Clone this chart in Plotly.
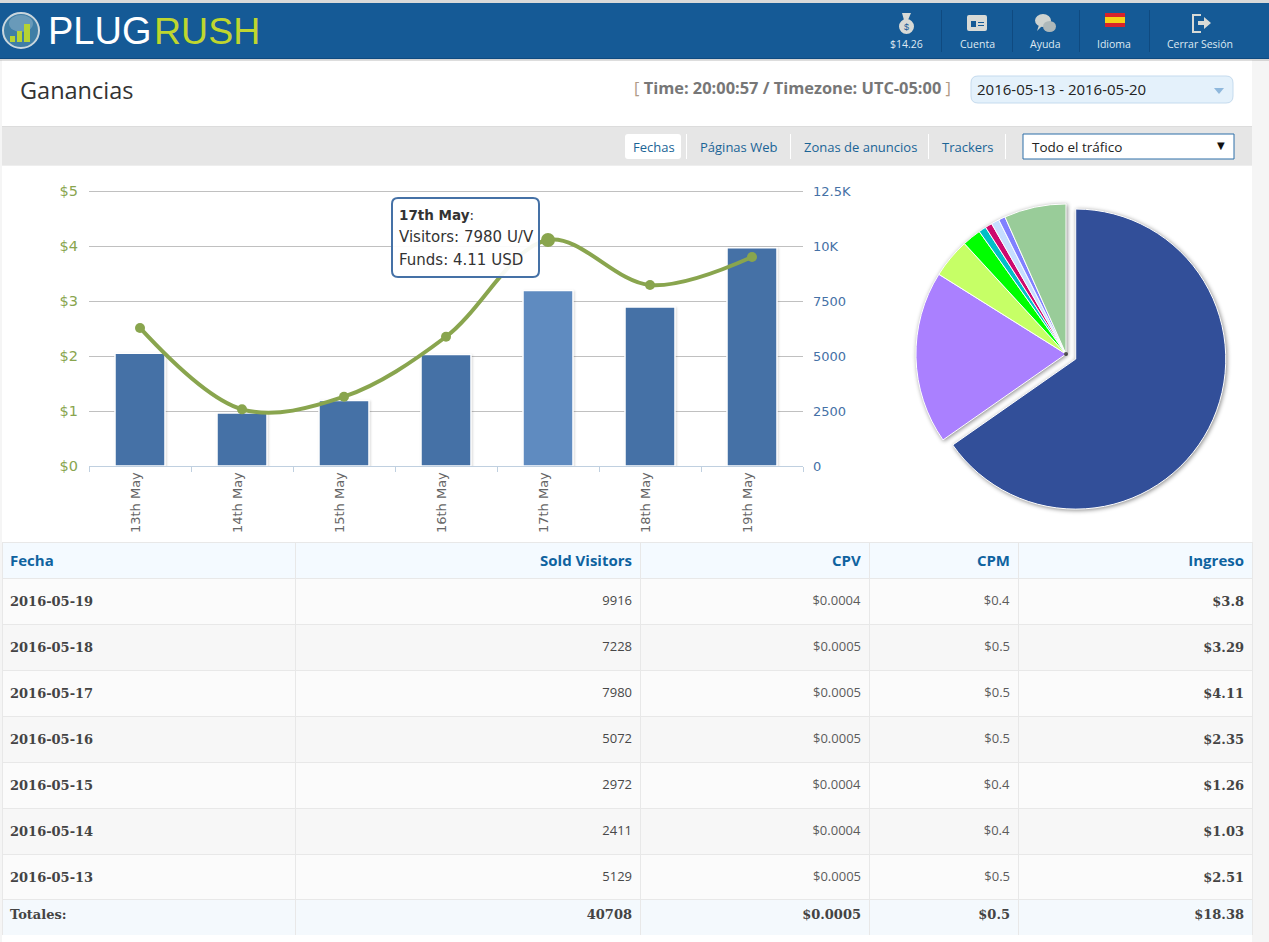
import plotly.graph_objects as go

W = 1269
H = 942

# -------------------------------------
# Data
# -------------------------------------
day_labels = ["13th May", "14th May", "15th May", "16th May", "17th May", "18th May", "19th May"]
visitors = [5129, 2411, 2972, 5072, 7980, 7228, 9916]
funds = [2.51, 1.03, 1.26, 2.35, 4.11, 3.29, 3.8]
cpv = [0.0005, 0.0004, 0.0004, 0.0005, 0.0005, 0.0005, 0.0004]
cpm = [0.5, 0.4, 0.4, 0.5, 0.5, 0.5, 0.4]
dates = ["2016-05-13", "2016-05-14", "2016-05-15", "2016-05-16", "2016-05-17", "2016-05-18", "2016-05-19"]

funds_ticks = [0, 1, 2, 3, 4, 5]
funds_ticktext = ["$0", "$1", "$2", "$3", "$4", "$5"]
visitor_ticks = [0, 2500, 5000, 7500, 10000, 12500]
visitor_ticktext = ["0", "2500", "5000", "7500", "10K", "12.5K"]

# share of traffic
pie_values = [235, 67, 15.3, 7.3, 2.9, 2.7, 3.1, 2.6, 24]
pie_colors = ["#324f99", "#aa80ff", "#c6ff66", "#00ff00", "#00bfc8", "#cc0a6e", "#c6deff", "#8080ff", "#99cc99"]
pie_pull = [0.073, 0, 0, 0, 0, 0, 0, 0, 0]

table_headers = ["Fecha", "Sold Visitors", "CPV", "CPM", "Ingreso"]
totals = ["Totales:", "40708", "$0.0005", "$0.5", "$18.38"]
column_widths = [293, 345, 229, 149, 234]

BLUE = "#4571a6"
BLUE_HOVER = "#5f8bc0"
OLIVE = "#89a54e"
LINK = "#1a6496"
TABLE_LINE = "#e8e8e8"


# -------------------------------------
# Helpers: page pixels to paper fractions
# -------------------------------------
def px(x):
    return x / W


def py(y):
    return 1 - y / H


shapes = []
annotations = []


def rect(x0, y0, x1, y1, fill, line=None, layer="below", width=1):
    shapes.append(dict(type="rect", xref="paper", yref="paper", x0=px(x0), x1=px(x1), y0=py(y0), y1=py(y1),
                       fillcolor=fill, line=dict(color=line or "rgba(0,0,0,0)", width=width if line else 0),
                       layer=layer))


def ellipse(x0, y0, x1, y1, fill, line=None, layer="above", width=1):
    shapes.append(dict(type="circle", xref="paper", yref="paper", x0=px(x0), x1=px(x1), y0=py(y0), y1=py(y1),
                       fillcolor=fill, line=dict(color=line or "rgba(0,0,0,0)", width=width if line else 0),
                       layer=layer))


def path(points, fill, line=None, layer="above", width=1, closed=True):
    d = "M " + " L ".join(f"{px(a)},{py(b)}" for a, b in points)
    if closed:
        d += " Z"
    shapes.append(dict(type="path", xref="paper", yref="paper", path=d, fillcolor=fill if closed else None,
                       line=dict(color=line or "rgba(0,0,0,0)", width=width if line else 0), layer=layer))


def round_rect(x0, y0, x1, y1, r, fill, line=None, layer="below", width=1):
    d = (f"M {px(x0 + r)},{py(y0)} L {px(x1 - r)},{py(y0)} Q {px(x1)},{py(y0)} {px(x1)},{py(y0 + r)} "
         f"L {px(x1)},{py(y1 - r)} Q {px(x1)},{py(y1)} {px(x1 - r)},{py(y1)} "
         f"L {px(x0 + r)},{py(y1)} Q {px(x0)},{py(y1)} {px(x0)},{py(y1 - r)} "
         f"L {px(x0)},{py(y0 + r)} Q {px(x0)},{py(y0)} {px(x0 + r)},{py(y0)} Z")
    shapes.append(dict(type="path", xref="paper", yref="paper", path=d, fillcolor=fill,
                       line=dict(color=line or "rgba(0,0,0,0)", width=width if line else 0), layer=layer))


def text(x, y, s, size=13, color="#333", family="Open Sans", anchor="left"):
    annotations.append(dict(xref="paper", yref="paper", x=px(x), y=py(y), text=s, showarrow=False,
                            xanchor=anchor, yanchor="middle", borderpad=0, borderwidth=0,
                            font=dict(size=size, color=color, family=family)))


# -------------------------------------
# Page furniture
# -------------------------------------
rect(2, 60, 1252, 942, "#ffffff")
rect(0, 0, W, 3, "#d9d9d9")
rect(0, 3, W, 58, "#155a96")
rect(0, 58, W, 59, "#0e4a80")
rect(0, 59, W, 61, "rgba(120,120,120,0.25)")
rect(2, 127, 1252, 165, "#e6e6e6")
rect(2, 126, 1252, 127, "#dcdcdc")
rect(2, 165, 1252, 166, "#eeeeee")

# logo
ellipse(3, 13, 39, 48, "#3f7ea6", "#c9d6dd", width=2)
ellipse(9, 15, 33, 32, "rgba(255,255,255,0.22)")
rect(10, 36, 15, 42, "#b5d334", layer="above")
rect(17, 31, 22, 42, "#b5d334", layer="above")
rect(24, 24, 30, 42, "#b5d334", layer="above")
text(48, 31, "PLUG", 38, "#ffffff", "Liberation Sans")
text(154, 31, "RUSH", 37.5, "#bfd62f", "Liberation Sans")

# top menu
for sep_x in [941, 1012, 1079, 1149]:
    rect(sep_x, 10, sep_x + 1, 52, "#0f4a80", layer="above")
menu_x = [906, 977, 1045, 1114, 1200]
menu_labels = ["$14.26", "Cuenta", "Ayuda", "Idioma", "Cerrar Sesión"]
for mx, label in zip(menu_x, menu_labels):
    text(mx, 44, label, 10.5, "#dfe9f2", "Open Sans", "center")

# money bag
ellipse(899, 19, 914, 34, "#d8dad6")
path([(902, 13), (911, 13), (908, 20), (904, 20)], "#d8dad6")
text(906.5, 27, "$", 9, "#155a96", "Liberation Sans", "center")
# card
round_rect(967, 15, 987, 31, 2, "#d8dad6", layer="above")
rect(971, 21, 976, 27, "#155a96", layer="above")
rect(978, 22, 984, 23, "#155a96", layer="above")
rect(978, 25, 984, 26, "#155a96", layer="above")
# chat
ellipse(1035, 14, 1051, 27, "#cfd3d0")
ellipse(1043, 21, 1056, 32, "#aeb8ba")
path([(1039, 25), (1043, 25), (1037, 31)], "#cfd3d0")
# flag
rect(1105, 13, 1125, 27, "#d8232a", layer="above")
rect(1105, 17, 1125, 23, "#f7d117", layer="above")
# exit
path([(1201, 15), (1193, 15), (1193, 32), (1201, 32)], "rgba(0,0,0,0)", "#d8dad6", width=2, closed=False)
path([(1198, 21), (1204, 21), (1204, 17), (1211, 23), (1204, 29), (1204, 25), (1198, 25)], "#d8dad6")

# heading row
text(20, 90, "Ganancias", 23.5, "#333333", "Open Sans")
text(634, 88, "<span style='color:#b09a86'>[</span> <b>Time: 20:00:57 / Timezone: UTC-05:00</b> "
     "<span style='color:#b09a86'>]</span>", 16.4, "#777777", "Open Sans")
round_rect(971, 76, 1233, 103, 7, "#e4f1fb", "#c5dbee")
text(977, 89, "2016-05-13 - 2016-05-20", 15, "#222222", "Open Sans")
path([(1214, 88), (1224, 88), (1219, 94)], "#8fb8dc")

# tabs
round_rect(625, 134, 681, 159, 3, "#ffffff")
for sep_x in [686, 790, 928, 1005]:
    rect(sep_x, 134, sep_x + 1, 159, "#ffffff")
tab_x = [654, 739, 860, 968]
tab_labels = ["Fechas", "Páginas Web", "Zonas de anuncios", "Trackers"]
for tx, label in zip(tab_x, tab_labels):
    text(tx, 147, label, 13, LINK, "Open Sans", "center")
rect(1023, 134, 1234, 159, "#ffffff", "#2d6ea8")
text(1032, 147, "Todo el tráfico", 13.5, "#222222", "Open Sans")
text(1221, 146, "▼", 10, "#111111", "DejaVu Sans", "center")

# static tooltip on 17th May
round_rect(392, 198, 539, 277, 6, "rgba(255,255,255,0.93)", BLUE, layer="above", width=2)
text(399, 215, "<b>17th May</b>:", 13.5, "#333333", "DejaVu Sans")
text(399, 237, "Visitors: 7980 U/V", 15, "#333333", "DejaVu Sans")
text(399, 260, "Funds: 4.11 USD", 15, "#333333", "DejaVu Sans")

# dark speck left by the pie shadow at its centre
ellipse(1064, 352, 1068, 356, "rgba(40,40,40,0.8)")

# -------------------------------------
# Figure
# -------------------------------------
fig = go.Figure()

bar_colors = [BLUE, BLUE, BLUE, BLUE, BLUE_HOVER, BLUE, BLUE]
marker_sizes = [10, 10, 10, 10, 14, 10, 10]

fig.add_trace(go.Bar(
    x=day_labels, y=visitors, name="Visitors", yaxis="y", width=0.49,
    marker=dict(color=bar_colors, line=dict(color="#ffffff", width=1.5)),
))
fig.add_trace(go.Scatter(
    x=day_labels, y=funds, name="Funds", yaxis="y2", mode="lines+markers",
    line=dict(color=OLIVE, width=4, shape="spline", smoothing=1),
    marker=dict(color=OLIVE, size=marker_sizes, opacity=1, line=dict(width=0)),
))

fig.add_trace(go.Pie(
    values=pie_values, sort=False, direction="clockwise", rotation=0, pull=pie_pull,
    marker=dict(colors=pie_colors, line=dict(color="#ffffff", width=1)),
    textinfo="none", showlegend=False,
    domain=dict(x=[px(905), px(1227)], y=[py(515), py(193)]),
))


# cell text sits at the top of a row, an empty small first line pushes it to the middle
def cell(s, bold=False):
    s = f"<b>{s}</b>" if bold else s
    return f" <br><span style='font-size:13px'>{s}</span>"


rows_date = [cell(d, True) for d in dates[::-1]]
rows_visitors = [cell(v) for v in visitors[::-1]]
rows_cpv = [cell(f"${v}") for v in cpv[::-1]]
rows_cpm = [cell(f"${v}") for v in cpm[::-1]]
rows_funds = [cell(f"${v}", True) for v in funds[::-1]]
row_fill = ["#fbfbfb", "#f7f7f7", "#fbfbfb", "#f7f7f7", "#fbfbfb", "#f7f7f7", "#fbfbfb"]
aligns = ["left", "right", "right", "right", "right"]

fig.add_trace(go.Table(
    domain=dict(x=[px(2), px(1252)], y=[py(900), py(542)]),
    columnwidth=column_widths,
    header=dict(
        values=[f"<b>{h}</b>" for h in table_headers], height=35, align=aligns,
        fill_color="#f4faff", line_color=TABLE_LINE,
        font=dict(family="Open Sans", size=15, color="#0f639f"),
    ),
    cells=dict(
        values=[rows_date, rows_visitors, rows_cpv, rows_cpm, rows_funds], height=46, align=aligns,
        fill_color=[row_fill] * 5, line_color=TABLE_LINE,
        font=dict(family=["DejaVu Serif", "Open Sans", "Open Sans", "Open Sans", "DejaVu Serif"],
                  size=[9, 8, 8, 8, 9], color=["#444444", "#484848", "#5c5c5c", "#5c5c5c", "#444444"]),
    ),
))
fig.add_trace(go.Table(
    domain=dict(x=[px(2), px(1252)], y=[py(936), py(899)]),
    columnwidth=column_widths,
    header=dict(
        values=[f" <br><span style='font-size:13px'><b>{t}</b></span>" for t in totals], height=36, align=aligns,
        fill_color="#f4f9fd", line_color=TABLE_LINE,
        font=dict(family="DejaVu Serif", size=5, color="#444444"),
    ),
    cells=dict(values=[], height=1),
))

fig.update_layout(
    width=W, height=H,
    autosize=False,
    margin=dict(l=0, r=0, t=0, b=0, pad=0, autoexpand=False),
    paper_bgcolor="#f5f5f5",
    plot_bgcolor="rgba(0,0,0,0)",
    showlegend=False,
    bargap=0.5,
    hovermode="closest",
    shapes=shapes,
    annotations=annotations,
    xaxis=dict(
        domain=[px(89), px(803)], type="category", range=[-0.5, 6.5], tickson="boundaries",
        ticks="outside", ticklen=5, tickcolor="#c0d0e0", showline=True, linecolor="#c0d0e0", linewidth=1,
        showgrid=False, tickangle=-90, tickfont=dict(size=13, color="#666666", family="DejaVu Sans"),
        ticklabelshift=-4,
    ),
    # 2px of headroom above the last tick, plotly drops a gridline closer to the edge than that
    yaxis=dict(
        domain=[py(466), py(189)], side="right", range=[0, 12590.9], tickvals=visitor_ticks,
        ticktext=visitor_ticktext, showgrid=True, gridcolor="#c0c0c0", gridwidth=1, zeroline=False,
        tickfont=dict(size=13, color=BLUE, family="DejaVu Sans"), ticklabelstandoff=9,
    ),
    yaxis2=dict(
        overlaying="y", side="left", range=[0, 5.0364], tickvals=funds_ticks, ticktext=funds_ticktext,
        showgrid=False, zeroline=False,
        tickfont=dict(size=14.5, color=OLIVE, family="DejaVu Sans"), ticklabelstandoff=10,
    ),
)

# page margin off, soft shadows like the original
post = """
var st = document.createElement('style');
st.textContent = 'body{margin:0;overflow:hidden;background:#f5f5f5}'
  + '.barlayer .point path{filter:drop-shadow(1px 1px 1px rgba(0,0,0,0.15))}'
  + '.pielayer .trace{filter:drop-shadow(1px 1px 2px rgba(0,0,0,0.45))}';
document.head.appendChild(st);
"""
fig.write_html("out.html", config={"displayModeBar": False}, post_script=post)
